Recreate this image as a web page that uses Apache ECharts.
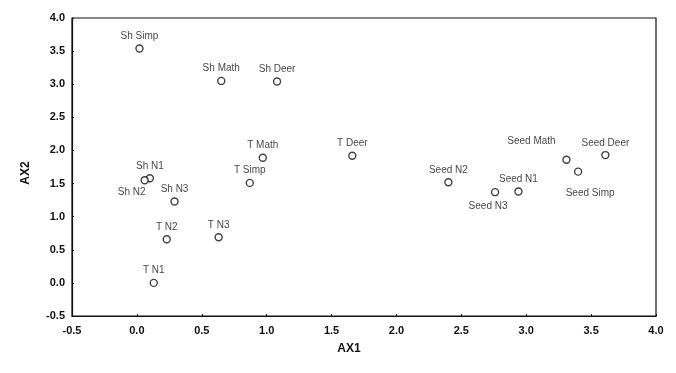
<!DOCTYPE html>
<html>
<head>
<meta charset="utf-8">
<script src="https://cdn.jsdelivr.net/npm/echarts@6/dist/echarts.min.js"></script>
<style>
html,body{margin:0;padding:0;background:#fff;}
#c{width:676px;height:373px;}
</style>
</head>
<body>
<div id="c"></div>
<script>
var names = ["Sh Simp","Sh Math","Sh Deer","T Math","T Simp","Sh N1","Sh N2","Sh N3","T N2","T N3","T N1","T Deer","Seed N2","Seed N3","Seed N1","Seed Math","Seed Simp","Seed Deer"];
var ax1 = [0.02, 0.65, 1.08, 0.97, 0.87, 0.10, 0.06, 0.29, 0.23, 0.63, 0.13, 1.66, 2.40, 2.76, 2.94, 3.31, 3.40, 3.61];
var ax2 = [3.54, 3.05, 3.04, 1.89, 1.51, 1.58, 1.55, 1.23, 0.66, 0.69, 0.00, 1.92, 1.52, 1.37, 1.38, 1.86, 1.68, 1.93];
var xTicks = [-0.5, 0.0, 0.5, 1.0, 1.5, 2.0, 2.5, 3.0, 3.5, 4.0];
var yTicks = [-0.5, 0.0, 0.5, 1.0, 1.5, 2.0, 2.5, 3.0, 3.5, 4.0];

// label placement overrides (style only)
var labelPlace = {
  "Sh N2": {position: "bottom", offset: [-13, 0]},
  "Seed N3": {position: "bottom", offset: [-7, 2]},
  "Seed Math": {position: "top", offset: [-35, -6]},
  "Seed Simp": {position: "bottom", offset: [12, 9]}
};

var data = names.map(function (n, i) {
  var item = {name: n, value: [ax1[i], ax2[i]]};
  if (labelPlace[n]) item.label = labelPlace[n];
  return item;
});

var chart = echarts.init(document.getElementById('c'), null, {renderer: 'canvas'});
var tickFont = {fontFamily: 'Liberation Sans, Arial, sans-serif', fontSize: 11, fontWeight: 'bold', color: '#111'};
chart.setOption({
  backgroundColor: '#fff',
  animation: false,
  grid: {left: 72, right: 20, top: 18, bottom: 57, show: true, borderColor: '#111', borderWidth: 1.2, backgroundColor: 'transparent'},
  xAxis: {
    type: 'value', min: xTicks[0], max: xTicks[xTicks.length - 1], interval: 0.5,
    name: 'AX1', nameLocation: 'middle', nameGap: 27,
    nameTextStyle: {fontFamily: 'Liberation Sans, Arial, sans-serif', fontSize: 12, fontWeight: 'bold', color: '#111', padding: [0, 30, 0, 0]},
    axisLine: {show: true, onZero: false, lineStyle: {color: '#111', width: 1.2}},
    axisTick: {show: true, inside: true, length: 2, lineStyle: {color: '#111'}},
    splitLine: {show: false},
    axisLabel: Object.assign({margin: 9, formatter: function (v) { return v.toFixed(1); }}, tickFont)
  },
  yAxis: {
    type: 'value', min: yTicks[0], max: yTicks[yTicks.length - 1], interval: 0.5,
    name: 'AX2', nameLocation: 'middle', nameGap: 40,
    nameTextStyle: {fontFamily: 'Liberation Sans, Arial, sans-serif', fontSize: 12, fontWeight: 'bold', color: '#111', padding: [0, 12, 0, 0]},
    axisLine: {show: true, onZero: false, lineStyle: {color: '#111', width: 1.2}},
    axisTick: {show: true, inside: true, length: 2, lineStyle: {color: '#111'}},
    splitLine: {show: false},
    axisLabel: Object.assign({margin: 7, formatter: function (v) { return v.toFixed(1); }}, tickFont)
  },
  series: [{
    type: 'scatter',
    data: data,
    symbol: 'circle',
    symbolSize: 7,
    itemStyle: {color: '#fff', borderColor: '#111', borderWidth: 1.4},
    label: {
      show: true, position: 'top', distance: 3,
      formatter: '{b}',
      fontFamily: 'Liberation Sans, Arial, sans-serif', fontSize: 10, color: '#111'
    }
  }]
});
</script>
</body>
</html>
